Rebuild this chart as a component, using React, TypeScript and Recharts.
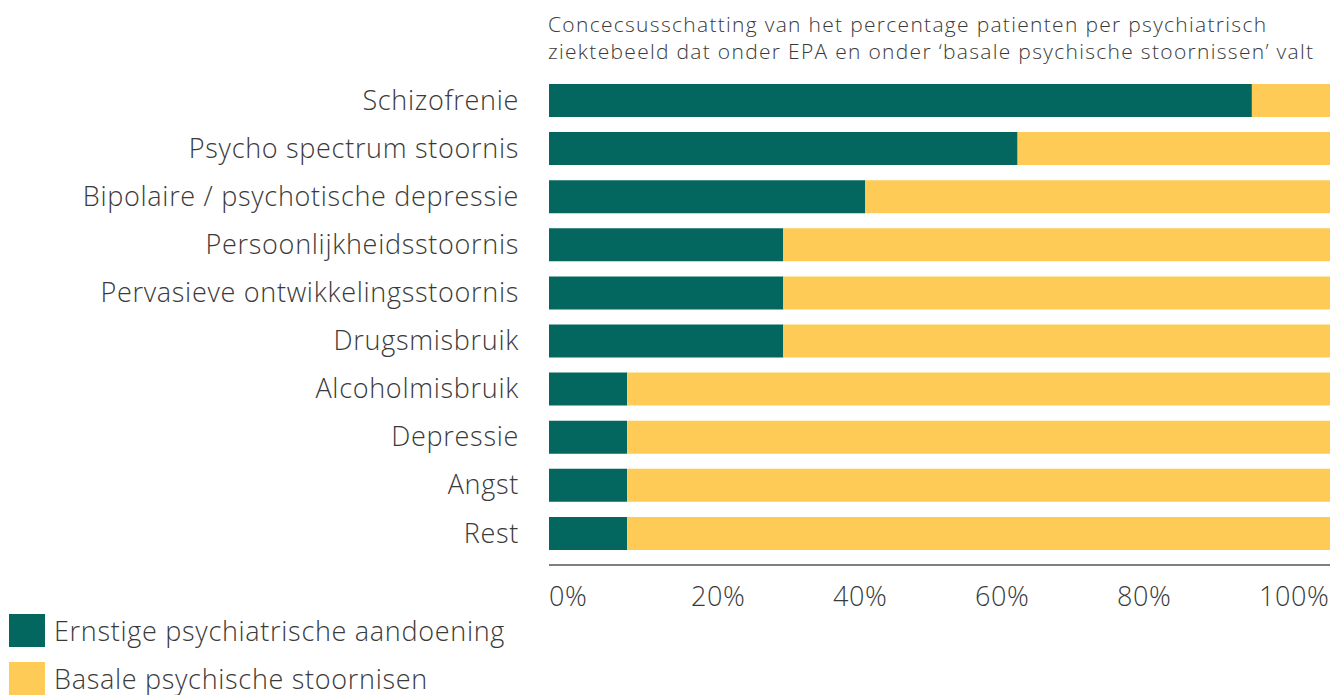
import React from "react";
import { BarChart, Bar, XAxis, YAxis, Legend } from "recharts";

const categories = [
  "Schizofrenie",
  "Psycho spectrum stoornis",
  "Bipolaire / psychotische depressie",
  "Persoonlijkheidsstoornis",
  "Pervasieve ontwikkelingsstoornis",
  "Drugsmisbruik",
  "Alcoholmisbruik",
  "Depressie",
  "Angst",
  "Rest",
];
const epaValues = [90, 60, 40.5, 30, 30, 30, 10, 10, 10, 10];
const basaleValues = [10, 40, 59.5, 70, 70, 70, 90, 90, 90, 90];
const tickValues = [0, 20, 40, 60, 80, 100];
const seriesNames = ["Ernstige psychiatrische aandoening", "Basale psychische stoornisen"];
const titleLines = [
  "Concecsusschatting van het percentage patienten per psychiatrisch",
  "ziektebeeld dat onder EPA en onder \u2018basale psychische stoornissen\u2019 valt",
];

const data = categories.map((name, i) => ({
  name,
  epa: epaValues[i],
  basale: basaleValues[i],
}));

const TEAL = "#03665F";
const YELLOW = "#FECB57";
const TEXT = "#3a3a3a";
const FONT = "'Open Sans', 'Noto Sans', sans-serif";

const LegendContent = () => (
  <div style={{ position: "relative", width: 600, height: 85, fontFamily: FONT, fontWeight: 300 }}>
    {seriesNames.map((n, i) => (
      <div key={n} style={{ position: "absolute", left: 9, top: 4 + i * 48, height: 33, display: "flex", alignItems: "center" }}>
        <div style={{ width: 36, height: 33, background: i === 0 ? TEAL : YELLOW }} />
        <span style={{ marginLeft: 9, fontSize: 27, letterSpacing: 0.7, color: TEXT, whiteSpace: "nowrap" }}>{n}</span>
      </div>
    ))}
  </div>
);

export default function App() {
  return (
    <div style={{ position: "absolute", left: 0, top: 0, width: 1330, height: 695, background: "#fff", fontFamily: FONT }}>
      <div style={{ position: "absolute", left: 548, top: 11, fontSize: 21, lineHeight: "27px", letterSpacing: 1.3, color: TEXT, fontWeight: 300, whiteSpace: "nowrap" }}>
        {titleLines.map((l) => (
          <div key={l}>{l}</div>
        ))}
      </div>
      <BarChart
        width={1330}
        height={695}
        data={data}
        layout="vertical"
        margin={{ top: 76, right: 0, left: 0, bottom: 0 }}
        barSize={33}
      >
        <YAxis
          type="category"
          dataKey="name"
          width={549}
          axisLine={false}
          tickLine={false}
          tickSize={0}
          tickMargin={30}
          padding={{ top: 0, bottom: 8 }}
          tick={{ fontSize: 27, fill: TEXT, fontFamily: FONT, fontWeight: 300, letterSpacing: 0.7 }}
          interval={0}
        />
        <XAxis
          xAxisId="a"
          type="number"
          domain={[0, 100]}
          height={1}
          tick={false}
          tickLine={false}
          axisLine={{ stroke: "#555", strokeWidth: 1.5 }}
        />
        <XAxis
          xAxisId="b"
          type="number"
          domain={[0, 110]}
          allowDataOverflow
          ticks={tickValues}
          height={44}
          axisLine={false}
          tickLine={false}
          tickSize={0}
          tickMargin={21}
          tickFormatter={(v: number) => `${v}%`}
          tick={{ fontSize: 27, fill: TEXT, fontFamily: FONT, fontWeight: 300, letterSpacing: 0.6, textAnchor: "start" }}
        />
        <Legend
          verticalAlign="bottom"
          align="left"
          wrapperStyle={{ height: 85, left: 0, bottom: 0 }}
          content={() => <LegendContent />}
        />
        <Bar xAxisId="a" dataKey="epa" stackId="a" fill={TEAL} name={seriesNames[0]} isAnimationActive={false} />
        <Bar xAxisId="a" dataKey="basale" stackId="a" fill={YELLOW} name={seriesNames[1]} isAnimationActive={false} />
      </BarChart>
    </div>
  );
}
